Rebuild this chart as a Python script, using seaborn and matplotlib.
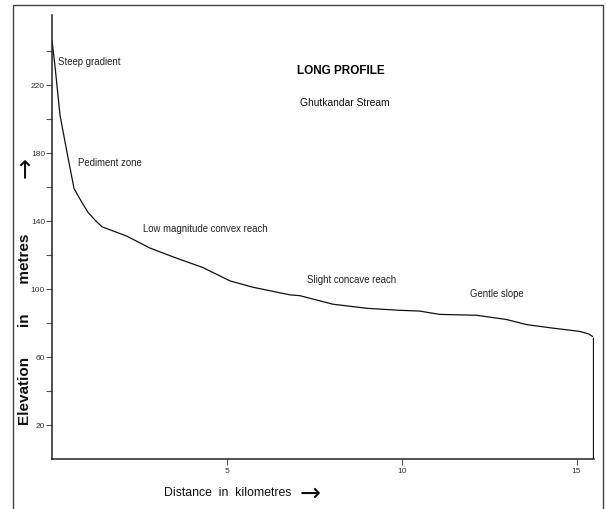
import numpy as np
import matplotlib.pyplot as plt
import seaborn as sns
import pandas as pd
from matplotlib.patches import Rectangle

# Долгий профиль потока: расстояние (км) и высота (м)
distance_km = [0.0, 0.08, 0.23, 0.45, 0.63, 0.85, 1.03, 1.25, 1.43, 2.14, 2.8, 3.57,
               4.31, 5.09, 5.74, 6.8, 7.09, 8.03, 9.0, 9.94, 10.5, 11.09, 12.14,
               13.0, 13.57, 14.3, 15.09, 15.35, 15.46]
elevation_m = [246, 232, 202, 178, 159, 151, 145, 140, 136.5, 131, 124, 118,
               112.6, 104.7, 101, 96.5, 96, 91, 88.6, 87.4, 87, 85, 84.5,
               82, 79, 77, 75, 73.5, 72]

y_ticks = [20, 60, 100, 140, 180, 220]
y_minor = [40, 80, 120, 160, 200, 240]
x_ticks = [5, 10, 15]

notes = ['Steep gradient', 'Pediment zone', 'Low magnitude convex reach',
         'Slight concave reach', 'Gentle slope']
note_x = [0.17, 0.73, 2.6, 7.3, 11.95]
note_y = [234, 174.5, 136, 106, 97.5]

sns.set_style('white')
plt.rcParams['font.family'] = ['Liberation Sans', 'DejaVu Sans']

fig = plt.figure(figsize=(6.07, 5.10), dpi=100)
ax = fig.add_axes([52 / 607, 1 - 460 / 510, 542 / 607, 444 / 510])

data = pd.DataFrame({'x': distance_km, 'y': elevation_m})
sns.lineplot(x='x', y='y', data=data, ax=ax, color='#111111', linewidth=0.9)
# вертикальная линия в конце профиля
ax.vlines(distance_km[-1], 0, elevation_m[-1], color='#111111', linewidth=0.9)

ax.set_xlim(0, 15.5)
ax.set_ylim(0, 261)
ax.set_xticks(x_ticks)
ax.set_xticklabels([str(v) for v in x_ticks])
ax.set_yticks(y_ticks)
ax.set_yticklabels([str(v) for v in y_ticks])
ax.set_yticks(y_minor, minor=True)
ax.tick_params(axis='both', which='both', direction='out', length=4, width=0.8,
               color='#555555', labelsize=6, labelcolor='#333333', pad=1,
               left=True, bottom=True)
ax.tick_params(axis='x', pad=2)
ax.set_xlabel('')
ax.set_ylabel('')

for side in ['top', 'right']:
    ax.spines[side].set_visible(False)
for side in ['left', 'bottom']:
    ax.spines[side].set_color('#222222')
    ax.spines[side].set_linewidth(1.1)

for t, xx, yy in zip(notes, note_x, note_y):
    ax.text(xx, yy, t, fontsize=6.9, color='#222222', va='center', ha='left')

fig.text(341 / 607, 1 - 71 / 510, 'LONG PROFILE', fontsize=8.5, fontweight='bold',
         ha='center', va='center', color='black')
fig.text(345 / 607, 1 - 103 / 510, 'Ghutkandar Stream', fontsize=7.4,
         ha='center', va='center', color='#111111')

# подписи осей
fig.text(25 / 607, 1 - 329 / 510, 'Elevation       in       metres', rotation=90,
         fontsize=11, fontweight='bold',
         ha='center', va='center', color='#111111')
fig.text(25 / 607, 1 - 168 / 510, '\u2192', rotation=90, fontsize=18,
         family=['DejaVu Sans'], ha='center', va='center', color='#111111')
fig.text(228 / 607, 1 - 493 / 510, 'Distance  in  kilometres', fontsize=8.8,
         ha='center', va='center', color='#111111')
fig.text(310 / 607, 1 - 494 / 510, '\u2192', fontsize=18, family=['DejaVu Sans'],
         ha='center', va='center', color='#111111')

# рамка вокруг картинки
fig.patches.append(Rectangle((13 / 607, -0.05), 590 / 607, 1.05 - 6 / 510,
                             transform=fig.transFigure, fill=False,
                             edgecolor='#444444', linewidth=1.0))

fig.savefig('out.png', dpi=100)
